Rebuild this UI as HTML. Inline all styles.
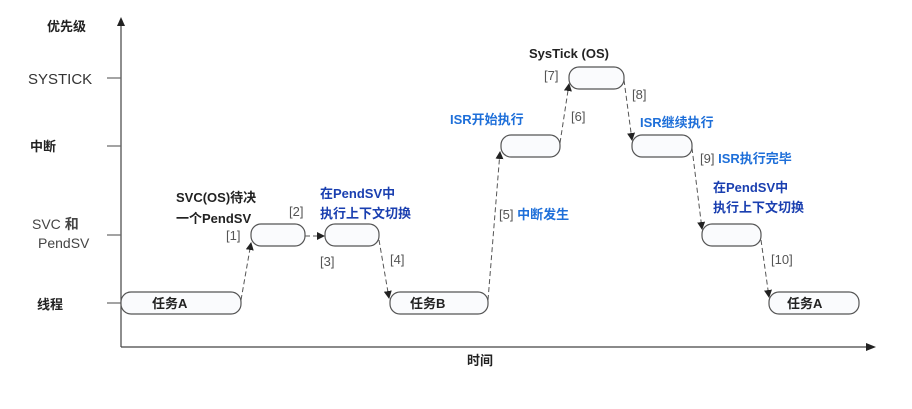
<!DOCTYPE html>
<html><head><meta charset="utf-8"><style>
body{margin:0;background:#fff;}
svg text{font-family:"Liberation Sans","Noto Sans CJK SC",sans-serif;}
.b{font-weight:bold;font-size:13px;fill:#222}
.g{font-size:13px;fill:#555}
.blue{font-weight:bold;font-size:13px;fill:#1e6fd9}
.dblue{font-weight:bold;font-size:13px;fill:#1a3fb0}
.box{fill:#fafbfd;stroke:#555;stroke-width:1.2}
.d{stroke:#555;stroke-width:1;stroke-dasharray:5,3;fill:none}
</style></head><body>
<svg width="912" height="404" xmlns="http://www.w3.org/2000/svg">
<defs><marker id="a" markerWidth="8" markerHeight="8" refX="7" refY="4" orient="auto" markerUnits="userSpaceOnUse"><path d="M0,0 L8,4 L0,8z" fill="#222"/></marker></defs>
<line x1="121" y1="347" x2="121" y2="22" stroke="#444" stroke-width="1.2"/>
<path d="M117,26 L121,17 L125,26z" fill="#222"/>
<line x1="121" y1="347" x2="870" y2="347" stroke="#444" stroke-width="1.2"/>
<path d="M866,343 L876,347 L866,351z" fill="#222"/>
<g stroke="#666" stroke-width="1.2">
<line x1="107" y1="78" x2="121" y2="78"/><line x1="107" y1="146" x2="121" y2="146"/>
<line x1="107" y1="235" x2="121" y2="235"/><line x1="107" y1="303" x2="121" y2="303"/></g>
<text x="47" y="31" class="b">优先级</text>
<text x="28" y="84" style="font-size:15px;fill:#333">SYSTICK</text>
<text x="30" y="151" class="b">中断</text>
<text x="32" y="229" style="font-size:14px;fill:#444">SVC <tspan font-weight="bold">和</tspan></text>
<text x="38" y="248" style="font-size:14px;fill:#444">PendSV</text>
<text x="37" y="309" class="b">线程</text>
<text x="467" y="365" class="b">时间</text>

<rect class="box" x="121" y="292" width="120" height="22" rx="10"/>
<text x="152" y="308" class="b">任务A</text>
<rect class="box" x="251" y="224" width="54" height="22" rx="10"/>
<rect class="box" x="325" y="224" width="54" height="22" rx="10"/>
<rect class="box" x="390" y="292" width="98" height="22" rx="10"/>
<text x="410" y="308" class="b">任务B</text>
<rect class="box" x="501" y="135" width="59" height="22" rx="10"/>
<rect class="box" x="569" y="67" width="55" height="22" rx="10"/>
<rect class="box" x="632" y="135" width="60" height="22" rx="10"/>
<rect class="box" x="702" y="224" width="59" height="22" rx="10"/>
<rect class="box" x="769" y="292" width="90" height="22" rx="10"/>
<text x="787" y="308" class="b">任务A</text>

<line class="d" x1="241" y1="300" x2="251" y2="243" marker-end="url(#a)"/>
<line class="d" x1="305" y1="236" x2="324" y2="236" marker-end="url(#a)"/>
<line class="d" x1="379" y1="240" x2="389" y2="298" marker-end="url(#a)"/>
<line class="d" x1="488" y1="300" x2="500" y2="152" marker-end="url(#a)"/>
<line class="d" x1="560" y1="143" x2="569" y2="84" marker-end="url(#a)"/>
<line class="d" x1="624" y1="80" x2="632" y2="140" marker-end="url(#a)"/>
<line class="d" x1="692" y1="148" x2="702" y2="229" marker-end="url(#a)"/>
<line class="d" x1="761" y1="240" x2="769" y2="297" marker-end="url(#a)"/>

<text x="176" y="202" class="b">SVC(OS)待决</text>
<text x="176" y="223" class="b">一个PendSV</text>
<text x="226" y="240" class="g">[1]</text>
<text x="289" y="216" class="g">[2]</text>
<text x="320" y="198" class="dblue">在PendSV中</text>
<text x="320" y="218" class="dblue">执行上下文切换</text>
<text x="320" y="266" class="g">[3]</text>
<text x="390" y="264" class="g">[4]</text>
<text x="499" y="219" class="g">[5] <tspan class="blue">中断发生</tspan></text>
<text x="450" y="124" class="blue">ISR开始执行</text>
<text x="571" y="121" class="g">[6]</text>
<text x="529" y="58" class="b">SysTick (OS)</text>
<text x="544" y="80" class="g">[7]</text>
<text x="632" y="99" class="g">[8]</text>
<text x="640" y="127" class="blue">ISR继续执行</text>
<text x="700" y="163" class="g">[9] <tspan class="blue">ISR执行完毕</tspan></text>
<text x="713" y="192" class="dblue">在PendSV中</text>
<text x="713" y="212" class="dblue">执行上下文切换</text>
<text x="771" y="264" class="g">[10]</text>
</svg>
</body></html>
